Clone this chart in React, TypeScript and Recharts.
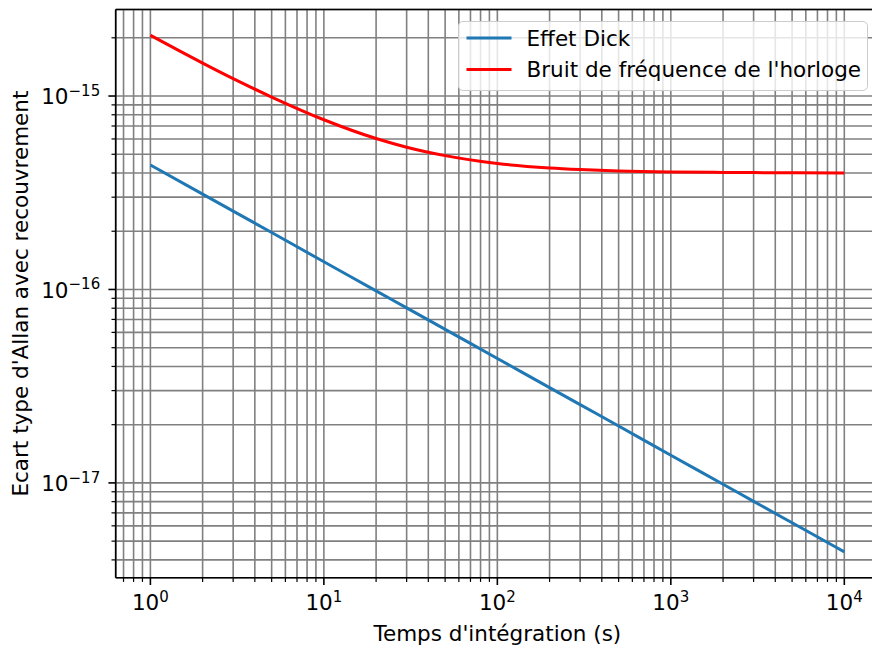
import React from 'react';
import { LineChart, Line, XAxis, YAxis, CartesianGrid, Legend, Label } from 'recharts';

// values (log-log)
const tau = [1, 2, 3, 5, 10, 20, 30, 50, 100, 200, 300, 500, 1000, 2000, 3000, 5000, 10000];
const effetDick = [
  4.4e-16, 3.11e-16, 2.54e-16, 1.97e-16, 1.39e-16, 9.84e-17, 8.03e-17, 6.22e-17, 4.4e-17,
  3.11e-17, 2.54e-17, 1.97e-17, 1.39e-17, 9.84e-18, 8.03e-18, 6.22e-18, 4.4e-18,
];
const bruitHorloge = [
  2.06e-15, 1.48e-15, 1.23e-15, 9.88e-16, 7.54e-16, 6.03e-16, 5.44e-16, 4.92e-16, 4.48e-16,
  4.25e-16, 4.17e-16, 4.1e-16, 4.05e-16, 4.03e-16, 4.02e-16, 4.01e-16, 4.0e-16,
];
const seriesNames = ['Effet Dick', "Bruit de fréquence de l'horloge"];
const seriesColors = ['#1f77b4', '#ff0000'];
const xDecades = [0.1, 1, 10, 100, 1000, 10000];
const yDecades = [1e-18, 1e-17, 1e-16, 1e-15];
const xTitle = "Temps d'intégration (s)";
const yTitle = "Ecart type d'Allan avec recouvrement";

const xDomain = [Math.pow(10, -0.2), Math.pow(10, 4.2)];
const yDomain = [Math.pow(10, -17.49), Math.pow(10, -14.5527)];

const FONT = '"DejaVu Sans", sans-serif';
const FS = 21.5;
const SUP = 15;

const data = tau.map((t, i) => ({ tau: t, dick: effetDick[i], horloge: bruitHorloge[i] }));

const logTicks = (decades: number[], domain: number[]) => {
  const out: number[] = [];
  decades.forEach((d) => {
    for (let k = 1; k <= 9; k++) {
      const v = k * d;
      if (v >= domain[0] && v <= domain[1]) out.push(v);
    }
  });
  return out;
};

const xTicks = logTicks(xDecades, xDomain);
const yTicks = logTicks(yDecades, yDomain);

const isMajor = (v: number) => Math.abs(Math.log10(v) - Math.round(Math.log10(v))) < 1e-6;
const expText = (v: number) => {
  const e = Math.round(Math.log10(v));
  return e < 0 ? '\u2212' + String(-e) : String(e);
};

const XTick = (props: any) => {
  const { x, y, payload } = props;
  const major = isMajor(payload.value);
  return (
    <g>
      <line x1={x} x2={x} y1={y} y2={y + (major ? 7.3 : 4.2)} stroke="#000" strokeWidth={major ? 1.6 : 1.2} />
      {major && (
        <text x={x} y={y + 32.5} textAnchor="middle" fontSize={FS} fontFamily={FONT} fill="#000">
          10
          <tspan dy={-8.5} fontSize={SUP}>
            {expText(payload.value)}
          </tspan>
        </text>
      )}
    </g>
  );
};

const YTick = (props: any) => {
  const { x, y, payload } = props;
  const major = isMajor(payload.value);
  return (
    <g>
      <line x1={x} x2={x - (major ? 7.3 : 4.2)} y1={y} y2={y} stroke="#000" strokeWidth={major ? 1.6 : 1.2} />
      {major && (
        <text x={x - 15.5} y={y + 8.2} textAnchor="end" fontSize={FS} fontFamily={FONT} fill="#000">
          10
          <tspan dy={-8.5} fontSize={SUP}>
            {expText(payload.value)}
          </tspan>
        </text>
      )}
    </g>
  );
};

const renderLegend = () => (
  <div
    style={{
      boxSizing: 'border-box',
      width: 410,
      height: 70,
      border: '1.3px solid #cccccc',
      borderRadius: 5,
      background: 'rgba(255,255,255,0.8)',
    }}
  >
    <svg width={407} height={67} style={{ display: 'block' }}>
      {seriesNames.map((name, i) => (
        <g key={name}>
          <line x1={7.5} x2={52.5} y1={16 + i * 31.6} y2={16 + i * 31.6} stroke={seriesColors[i]} strokeWidth={3} />
          <text x={67.5} y={23.8 + i * 31.6} fontSize={FS} fontFamily={FONT} fill="#000">
            {name}
          </text>
        </g>
      ))}
    </svg>
  </div>
);

export default function App() {
  return (
    <div style={{ position: 'absolute', left: 0, top: 0, width: 872, height: 650, overflow: 'hidden', background: '#fff' }}>
      <LineChart width={890} height={650} data={data} margin={{ top: 8.5, right: 11, bottom: 0, left: 0 }}>
        <CartesianGrid stroke="#808080" strokeWidth={1.6} />
        <XAxis
          dataKey="tau"
          type="number"
          scale="log"
          domain={xDomain}
          allowDataOverflow
          ticks={xTicks}
          interval={0}
          height={72.3}
          tickSize={0}
          tickMargin={0}
          tickLine={false}
          tick={<XTick />}
          axisLine={{ stroke: '#000', strokeWidth: 1.6 }}
        >
          <Label
            content={(p: any) => (
              <text x={p.viewBox.x + p.viewBox.width / 2} y={641} textAnchor="middle" fontSize={FS} fontFamily={FONT} fill="#000">
                {xTitle}
              </text>
            )}
          />
        </XAxis>
        <XAxis
          xAxisId="top"
          orientation="top"
          dataKey="tau"
          type="number"
          scale="log"
          domain={xDomain}
          allowDataOverflow
          height={1}
          tick={false}
          tickLine={false}
          axisLine={{ stroke: '#000', strokeWidth: 1.6 }}
        />
        <YAxis
          type="number"
          scale="log"
          domain={yDomain}
          allowDataOverflow
          ticks={yTicks}
          interval={0}
          width={115.7}
          tickSize={0}
          tickMargin={0}
          tickLine={false}
          tick={<YTick />}
          axisLine={{ stroke: '#000', strokeWidth: 1.6 }}
        >
          <Label
            content={(p: any) => (
              <text
                x={28.5}
                y={p.viewBox.y + p.viewBox.height / 2}
                transform={`rotate(-90, 28.5, ${p.viewBox.y + p.viewBox.height / 2})`}
                textAnchor="middle"
                fontSize={FS}
                fontFamily={FONT}
                fill="#000"
              >
                {yTitle}
              </text>
            )}
          />
        </YAxis>
        <Legend
          layout="vertical"
          align="center"
          verticalAlign="middle"
          wrapperStyle={{ top: 20.5, left: 457.5, width: 410 }}
          content={renderLegend}
        />
        <Line
          type="monotone"
          dataKey="dick"
          name={seriesNames[0]}
          stroke={seriesColors[0]}
          strokeWidth={3}
          dot={false}
          isAnimationActive={false}
        />
        <Line
          type="monotone"
          dataKey="horloge"
          name={seriesNames[1]}
          stroke={seriesColors[1]}
          strokeWidth={3}
          dot={false}
          isAnimationActive={false}
        />
      </LineChart>
    </div>
  );
}
